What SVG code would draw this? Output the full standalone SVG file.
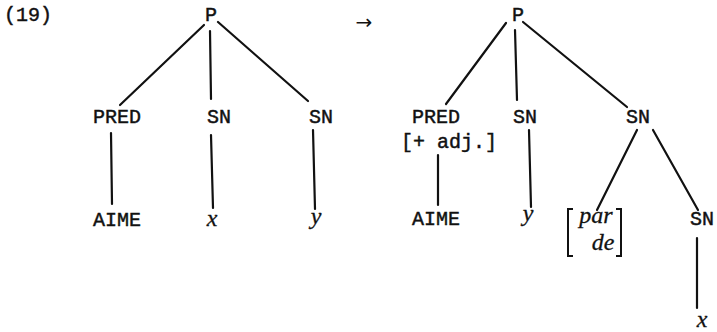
<svg xmlns="http://www.w3.org/2000/svg" width="717" height="332" viewBox="0 0 717 332">
<style>
.m{font-family:"Liberation Mono","DejaVu Sans Mono",monospace;font-size:20px;fill:#111;text-anchor:middle;stroke:#111;stroke-width:0.45}
.i{font-family:"Liberation Serif","DejaVu Serif",serif;font-style:italic;font-size:24px;fill:#111;text-anchor:middle;stroke:#111;stroke-width:0.3}
.e line{stroke:#111;stroke-width:2.2;stroke-linecap:round}
.br{fill:none;stroke:#111;stroke-width:2}
</style>
<rect width="717" height="332" fill="#fff"/>
<text class="m" x="28" y="21">(19)</text>
<text x="364" y="29" style="font-family:'DejaVu Sans',sans-serif;font-size:20px;fill:#111;text-anchor:middle">→</text>
<g id="connectors" class="e">
<line x1="204" y1="25" x2="120" y2="105"/>
<line x1="210" y1="31" x2="211" y2="99"/>
<line x1="218" y1="22" x2="308" y2="101"/>
<line x1="111" y1="133" x2="112" y2="204"/>
<line x1="211" y1="135" x2="213" y2="208"/>
<line x1="313" y1="130" x2="315" y2="209"/>
<line x1="506" y1="23" x2="446" y2="104"/>
<line x1="515" y1="30" x2="517" y2="100"/>
<line x1="523" y1="22" x2="627" y2="107"/>
<line x1="438" y1="155" x2="438" y2="205"/>
<line x1="529" y1="130" x2="531" y2="207"/>
<line x1="637" y1="130" x2="597" y2="210"/>
<line x1="653" y1="130" x2="698" y2="210"/>
<line x1="697" y1="238" x2="697" y2="308"/>
</g>
<g id="L-P"><text class="m" x="211" y="21">P</text></g>
<g id="L-PRED"><text class="m" x="117" y="123">PRED</text></g>
<g id="L-SN1"><text class="m" x="219" y="123">SN</text></g>
<g id="L-SN2"><text class="m" x="321" y="123">SN</text></g>
<g id="L-AIME"><text class="m" x="117" y="226">AIME</text></g>
<g id="L-x"><text class="i" x="212" y="226">x</text></g>
<g id="L-y"><text class="i" x="316" y="224">y</text></g>
<g id="R-P"><text class="m" x="518" y="21">P</text></g>
<g id="R-PRED"><text class="m" x="436" y="123">PRED</text><text class="m" x="449" y="148">[+ adj.]</text></g>
<g id="R-SN1"><text class="m" x="525" y="123">SN</text></g>
<g id="R-SN2"><text class="m" x="638" y="123">SN</text></g>
<g id="R-AIME"><text class="m" x="436" y="225">AIME</text></g>
<g id="R-y"><text class="i" x="528" y="221">y</text></g>
<g id="R-parde">
<path class="br" d="M573 209 H568 V256 H573"/>
<path class="br" d="M616 209 H621 V256 H616"/>
<text class="i" x="596" y="223">par</text>
<text class="i" x="603" y="250">de</text>
</g>
<g id="R-SN3"><text class="m" x="702" y="225">SN</text></g>
<g id="R-x"><text class="i" x="702" y="327">x</text></g>
</svg>
